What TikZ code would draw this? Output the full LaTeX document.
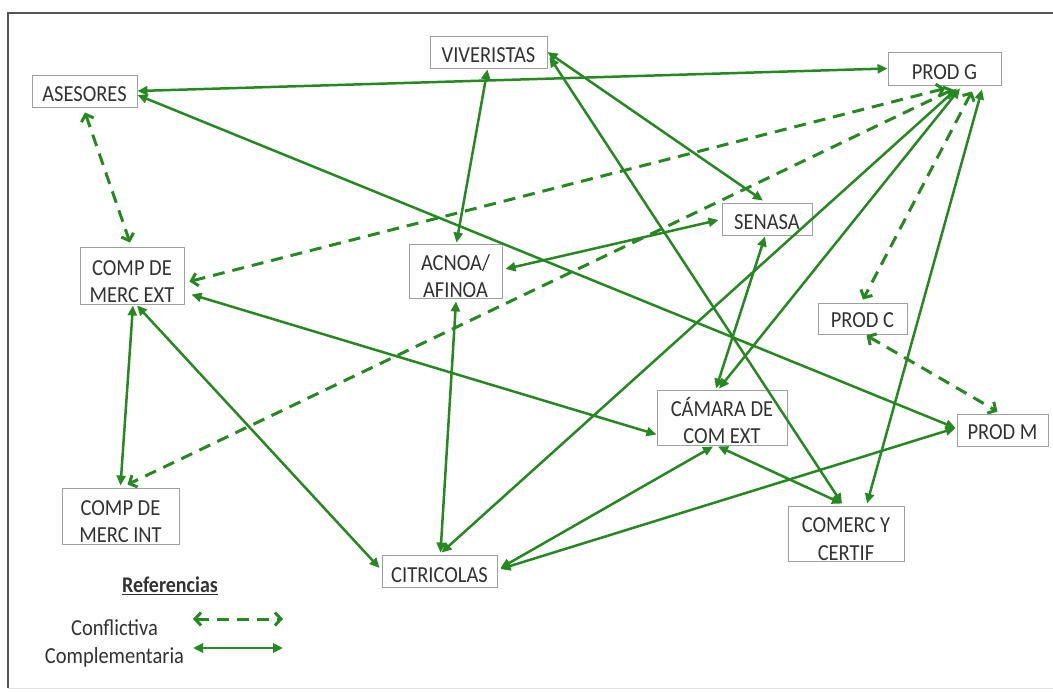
\documentclass[tikz,border=0pt]{standalone}
\usepackage{fontspec}
\setmainfont{Carlito}
\usetikzlibrary{arrows.meta,calc}
\definecolor{linkgreen}{RGB}{38,136,32}
\definecolor{boxgrey}{RGB}{160,160,160}
\definecolor{txtgrey}{RGB}{50,50,50}
\definecolor{framegrey}{RGB}{85,85,85}
% actor label: lowered by #1, lines given in #2, last baseline as reference
\newcommand{\ent}[2]{\raisebox{-#1}[0pt][0pt]{\scalebox{1}[1.12]{\begin{tabular}[b]{@{}c@{}}#2\end{tabular}}}}
\newcommand{\tall}[1]{\scalebox{1}[1.12]{#1}}

\begin{document}
\begin{tikzpicture}[x=1pt,y=-1pt,
  actor/.style={draw=boxgrey, line width=0.9pt, inner sep=0pt, text=txtgrey,
                font=\fontsize{20.5}{24.2}\selectfont},
  legtext/.style={text=txtgrey, font=\fontsize{20.5}{24}\selectfont, anchor=base, inner sep=0pt},
  compl/.style={draw=linkgreen, line width=2.5pt,
                {Triangle[length=10pt,width=9pt]}-{Triangle[length=10pt,width=9pt]}},
  confl/.style={draw=linkgreen, line width=3pt, dash pattern=on 12pt off 8pt,
                {Straight Barb[length=6pt,width=13pt]}-{Straight Barb[length=6pt,width=13pt]}},
]
\useasboundingbox (0,0) rectangle (1053,692);

% frame
\draw[black!12, line width=1pt] (8,688) -- (1053,688);
\draw[framegrey, line width=1.5pt] (8,688) -- (8,13) -- (1053,13);

% actors
\node[actor, minimum width=105pt, minimum height=32pt] (ases)    at (84.5,91)   {\ent{11pt}{ASESORES}};
\node[actor, minimum width=117pt, minimum height=32pt] (viv)     at (488.5,52)  {\ent{11pt}{VIVERISTAS}};
\node[actor, minimum width=113pt, minimum height=33pt] (prodG)   at (944.5,68.5){\ent{11.5pt}{PROD G}};
\node[actor, minimum width=104pt, minimum height=57pt] (compExt) at (132,275.5) {\ent{27.5pt}{COMP DE\\MERC EXT}};
\node[actor, minimum width=93pt,  minimum height=54pt] (acnoa)   at (455.5,271) {\ent{27pt}{ACNOA/\\AFINOA}};
\node[actor, minimum width=90pt,  minimum height=32pt] (senasa)  at (767,219)   {\ent{11pt}{SENASA}};
\node[actor, minimum width=89pt,  minimum height=31pt] (prodC)   at (862.5,318.5){\ent{9.5pt}{PROD C}};
\node[actor, minimum width=130pt, minimum height=55pt] (camara)  at (722,417.5) {\ent{26.5pt}{CÁMARA DE\\COM EXT}};
\node[actor, minimum width=91pt,  minimum height=32pt] (prodM)   at (1002.5,430){\ent{10pt}{PROD M}};
\node[actor, minimum width=117pt, minimum height=56pt] (comInt)  at (120.5,516) {\ent{27pt}{COMP DE\\MERC INT}};
\node[actor, minimum width=115pt, minimum height=32pt] (citri)   at (439.5,571) {\ent{11pt}{CITRICOLAS}};
\node[actor, minimum width=116pt, minimum height=55pt] (comerc)  at (846,533.5) {\ent{26.5pt}{COMERC Y\\CERTIF}};

% complementary links
\draw[compl] (ases.east) -- (prodG.west);
\draw[compl] ($(ases.east)+(0,4)$) -- ($(prodM.west)+(-1,-2)$);
\draw[compl] ($(viv.south)+(-1,1)$) -- ($(acnoa.north)+(1,-1)$);
\draw[compl] (viv.east) -- ($(senasa.north)+(-4,-2)$);
\draw[compl] ($(viv.east)+(2,5)$) -- ($(comerc.north)+(-4,-2)$);
\draw[compl] ($(prodG.south)+(12.5,3)$) -- ($(citri.north)+(2,-2)$);
\draw[compl] ($(prodG.south)+(15.5,3)$) -- ($(camara.north)+(-3,-1)$);
\draw[compl] ($(prodG.south)+(37.5,4)$) -- ($(comerc.north)+(21,-2)$);
\draw[compl] ($(senasa.south)+(-2,1)$) -- ($(camara.north)+(-6,-1)$);
\draw[compl] ($(acnoa.east)+(3,-2)$) -- ($(senasa.west)+(-3,1)$);
\draw[compl] ($(acnoa.south)+(0.5,3)$) -- ($(citri.north)+(1,-2)$);
\draw[compl] ($(compExt.south)+(1,1)$) -- ($(comInt.north)+(0,-2)$);
\draw[compl] ($(compExt.south)+(5,1)$) -- ($(citri.west)+(-2,-3)$);
\draw[compl] ($(compExt.east)+(7,19)$) -- ($(camara.west)+(0,17)$);
\draw[compl] ($(citri.east)+(3,-2)$) -- ($(prodM.west)+(-1,-2)$);
\draw[compl] ($(citri.east)+(3,-3)$) -- ($(camara.south)+(-9,1)$);
\draw[compl] ($(camara.south)+(-4,1)$) -- ($(comerc.north)+(-4,-2)$);

% conflicting links
\draw[confl] ($(ases.south)+(0.5,5)$) -- ($(compExt.north)+(-2,-4)$);
\draw[confl] ($(prodG.south)+(0.5,3)$) -- ($(compExt.east)+(5,6)$);
\draw[confl] ($(prodG.south)+(8.5,4)$) -- ($(comInt.north)+(7,-3)$);
\draw[confl] ($(prodG.south)+(27.5,6)$) -- ($(prodC.north)+(0.5,-3)$);
\draw[confl] ($(prodC.south)+(4,1)$) -- ($(prodM.north)+(-5,-2)$);

% legend
\node[legtext, font=\fontsize{20}{24}\selectfont\bfseries] (ref) at (170,592) {\tall{\underline{Referencias}}};
\node[legtext] (conf) at (114.5,635) {\tall{Conflictiva}};
\node[legtext] (comp) at (114.5,663) {\tall{Complementaria}};
\coordinate (confA) at (193,619);
\coordinate (confB) at (283,619);
\coordinate (compA) at (193,648);
\coordinate (compB) at (283,648);
\draw[confl] (confA) -- (confB);
\draw[compl] (compA) -- (compB);
\end{tikzpicture}
\end{document}
